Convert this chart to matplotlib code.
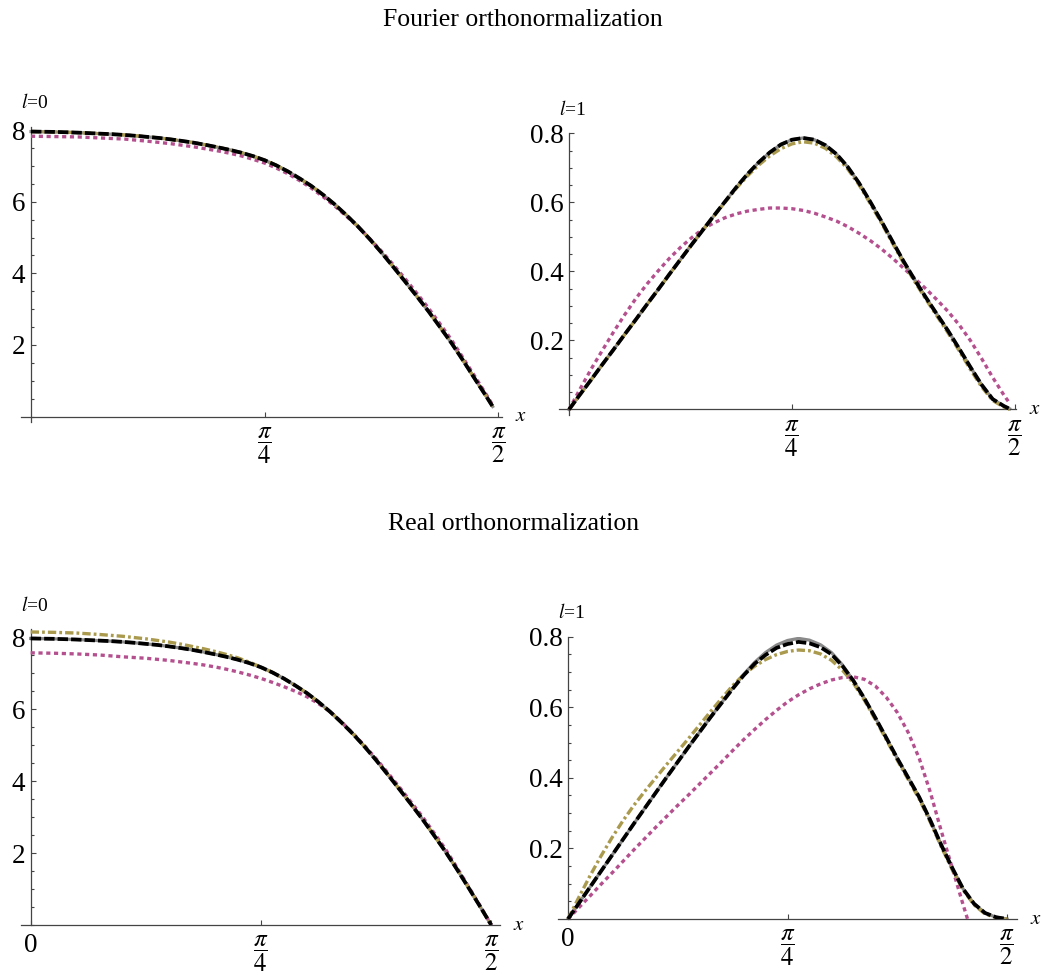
import numpy as np
import matplotlib
matplotlib.use('Agg')
import matplotlib.pyplot as plt
from matplotlib.ticker import FixedLocator, MultipleLocator

plt.rcParams['mathtext.fontset'] = 'stix'
plt.rcParams['font.family'] = ['Liberation Serif', 'DejaVu Serif']
plt.rcParams['lines.scale_dashes'] = False

# sample positions along x, as fractions of pi/2
frac_top = [0, 0.025, 0.05, 0.075, 0.1, 0.125, 0.15, 0.175, 0.2, 0.225,
            0.25, 0.275, 0.3, 0.325, 0.35, 0.375, 0.4, 0.425, 0.45, 0.475,
            0.5, 0.525, 0.55, 0.575, 0.6, 0.625, 0.65, 0.675, 0.7, 0.725,
            0.75, 0.775, 0.8, 0.825, 0.85, 0.875, 0.9, 0.925, 0.95, 0.975, 0.988]
frac_bottom = frac_top[:-1] + [1.0]

# Fourier orthonormalization, l=0
f0_exact = [7.96, 7.955, 7.95, 7.94, 7.93, 7.915, 7.90, 7.885, 7.865, 7.84,
            7.81, 7.78, 7.74, 7.695, 7.645, 7.585, 7.52, 7.45, 7.37, 7.275,
            7.16, 7.015, 6.845, 6.65, 6.44, 6.195, 5.925, 5.625, 5.305, 4.955,
            4.58, 4.185, 3.78, 3.37, 2.95, 2.505, 2.05, 1.56, 1.05, 0.55, 0.28]
f0_dashed = f0_exact
f0_dotdash = f0_exact
f0_dotted = [7.83, 7.825, 7.82, 7.815, 7.81, 7.795, 7.78, 7.765, 7.75, 7.72,
             7.69, 7.655, 7.62, 7.575, 7.53, 7.475, 7.42, 7.355, 7.28, 7.185,
             7.08, 6.94, 6.78, 6.59, 6.38, 6.14, 5.88, 5.595, 5.30, 4.965,
             4.62, 4.245, 3.86, 3.455, 3.04, 2.595, 2.14, 1.63, 1.12, 0.6, 0.32]

# Fourier orthonormalization, l=1
f1_exact = [0, 0.044, 0.087, 0.131, 0.174, 0.218, 0.261, 0.305, 0.348, 0.392,
            0.435, 0.478, 0.52, 0.562, 0.603, 0.644, 0.682, 0.716, 0.745, 0.768,
            0.782, 0.787, 0.782, 0.766, 0.74, 0.703, 0.657, 0.603, 0.547, 0.488,
            0.43, 0.376, 0.325, 0.276, 0.228, 0.176, 0.123, 0.072, 0.03, 0.01, 0.002]
f1_dashed = f1_exact
f1_dotdash = [0, 0.044, 0.087, 0.131, 0.174, 0.218, 0.261, 0.305, 0.348, 0.392,
              0.435, 0.478, 0.52, 0.561, 0.601, 0.641, 0.677, 0.708, 0.735, 0.756,
              0.77, 0.776, 0.772, 0.757, 0.732, 0.697, 0.652, 0.598, 0.542, 0.483,
              0.425, 0.371, 0.32, 0.271, 0.222, 0.17, 0.116, 0.066, 0.026, 0.007, 0.0]
f1_dotted = [0, 0.06, 0.118, 0.172, 0.225, 0.275, 0.322, 0.364, 0.402, 0.438,
             0.47, 0.498, 0.523, 0.541, 0.556, 0.567, 0.575, 0.58, 0.584, 0.584,
             0.582, 0.577, 0.569, 0.558, 0.546, 0.53, 0.511, 0.49, 0.466, 0.439,
             0.41, 0.38, 0.35, 0.318, 0.284, 0.245, 0.2, 0.148, 0.093, 0.042, 0.018]

# Real orthonormalization, l=0
r0_exact = [7.96, 7.955, 7.95, 7.94, 7.93, 7.915, 7.90, 7.885, 7.865, 7.84,
            7.81, 7.78, 7.74, 7.695, 7.645, 7.585, 7.52, 7.45, 7.37, 7.275,
            7.16, 7.015, 6.845, 6.65, 6.44, 6.195, 5.925, 5.625, 5.305, 4.955,
            4.58, 4.185, 3.78, 3.37, 2.95, 2.505, 2.05, 1.56, 1.05, 0.53, 0.0]
r0_dashed = r0_exact
r0_dotdash = [8.14, 8.135, 8.13, 8.12, 8.11, 8.09, 8.07, 8.045, 8.02, 7.985,
              7.95, 7.905, 7.86, 7.805, 7.74, 7.675, 7.60, 7.515, 7.42, 7.30,
              7.165, 7.015, 6.845, 6.65, 6.44, 6.195, 5.925, 5.625, 5.305, 4.955,
              4.58, 4.185, 3.78, 3.37, 2.95, 2.505, 2.05, 1.56, 1.05, 0.53, 0.0]
r0_dotted = [7.56, 7.555, 7.55, 7.54, 7.53, 7.515, 7.50, 7.475, 7.45, 7.43,
             7.41, 7.38, 7.35, 7.31, 7.27, 7.225, 7.17, 7.105, 7.03, 6.945,
             6.85, 6.74, 6.62, 6.49, 6.34, 6.15, 5.93, 5.64, 5.32, 4.98,
             4.62, 4.235, 3.84, 3.43, 3.02, 2.575, 2.12, 1.61, 1.08, 0.55, 0.0]

# Real orthonormalization, l=1
r1_exact = [0, 0.045, 0.09, 0.135, 0.18, 0.225, 0.27, 0.314, 0.358, 0.402,
            0.445, 0.488, 0.53, 0.572, 0.613, 0.654, 0.693, 0.727, 0.755, 0.776,
            0.789, 0.795, 0.79, 0.777, 0.755, 0.72, 0.675, 0.625, 0.57, 0.513,
            0.455, 0.4, 0.345, 0.28, 0.21, 0.145, 0.085, 0.043, 0.017, 0.005, 0.0]
r1_dashed = [0, 0.045, 0.09, 0.135, 0.18, 0.225, 0.27, 0.314, 0.358, 0.402,
             0.445, 0.488, 0.53, 0.572, 0.612, 0.652, 0.69, 0.723, 0.748, 0.768,
             0.779, 0.785, 0.781, 0.77, 0.75, 0.717, 0.675, 0.625, 0.57, 0.513,
             0.455, 0.4, 0.345, 0.28, 0.21, 0.145, 0.085, 0.043, 0.017, 0.005, 0.0]
r1_dotdash = [0, 0.062, 0.122, 0.178, 0.23, 0.278, 0.322, 0.362, 0.4, 0.438,
              0.475, 0.512, 0.55, 0.588, 0.625, 0.661, 0.692, 0.716, 0.735, 0.749,
              0.758, 0.762, 0.76, 0.751, 0.733, 0.705, 0.668, 0.62, 0.565, 0.508,
              0.45, 0.395, 0.34, 0.275, 0.205, 0.14, 0.082, 0.04, 0.014, 0.004, 0.0]
r1_dotted = [0, 0.0325, 0.065, 0.098, 0.13, 0.163, 0.196, 0.228, 0.26, 0.291,
             0.322, 0.352, 0.383, 0.414, 0.445, 0.477, 0.508, 0.537, 0.565, 0.591,
             0.615, 0.635, 0.652, 0.666, 0.677, 0.684, 0.686, 0.679, 0.66, 0.628,
             0.585, 0.528, 0.455, 0.36, 0.25, 0.145, 0.04, -0.06, -0.16, -0.26, -0.36]

left_ticks = [2, 4, 6, 8]
left_ticklabels = ['2', '4', '6', '8']
right_ticks = [0.2, 0.4, 0.6, 0.8]
right_ticklabels = ['0.2', '0.4', '0.6', '0.8']

GRAY = '#8a8a8a'
MAGENTA = '#b5508f'
OLIVE = '#aa9a4e'
AXC = '#444444'

W, H = 1045, 980
fig = plt.figure(figsize=(W / 100, H / 100), dpi=100)


def px_axes(left, top, right, bottom):
    return fig.add_axes([left / W, 1 - bottom / H, (right - left) / W, (bottom - top) / H])


def panel(ax, frac, exact, dotted, dotdash, dashed, xlim, ylim, yt, ytl, minor,
          label, zero_label):
    x = np.array(frac) * np.pi / 2
    ax.plot(x, exact, color=GRAY, lw=2.3, zorder=2)
    ax.plot(x, dotted, color=MAGENTA, lw=2.4, dashes=(3.0, 2.6), zorder=3,
            dash_capstyle='butt')
    ax.plot(x, dotdash, color=OLIVE, lw=2.4, dashes=(6.0, 2.2, 2.0, 2.2), zorder=4,
            dash_capstyle='butt')
    ax.plot(x, dashed, color='black', lw=2.7, dashes=(7.5, 2.2), zorder=5,
            dash_capstyle='butt')

    ax.set_xlim(*xlim)
    ax.set_ylim(*ylim)
    for s in ['top', 'right']:
        ax.spines[s].set_visible(False)
    for s in ['left', 'bottom']:
        ax.spines[s].set_position(('data', 0))
        ax.spines[s].set_color(AXC)
        ax.spines[s].set_linewidth(0.9)

    ax.yaxis.set_major_locator(FixedLocator(yt))
    ax.set_yticklabels(ytl)
    ax.yaxis.set_minor_locator(MultipleLocator(minor))

    xt = [np.pi / 4, np.pi / 2]
    xtl = [r'$\dfrac{\pi}{4}$', r'$\dfrac{\pi}{2}$']
    if zero_label:
        xt = [0] + xt
        xtl = ['0'] + xtl
    ax.set_xticks(xt)
    ax.set_xticklabels(xtl)

    ax.tick_params(axis='both', which='major', direction='in', length=3.6,
                   width=0.8, color=AXC, labelsize=19.5)
    ax.tick_params(axis='both', which='minor', direction='in', length=2.2,
                   width=0.8, color=AXC)
    ax.tick_params(axis='y', pad=4)
    ax.tick_params(axis='x', pad=6)
    for lab in ax.get_xticklabels():
        lab.set_fontsize(18 if lab.get_text().startswith('$') else 19.5)

    ax.annotate(label, xy=(0, 1), xycoords=('data', 'axes fraction'),
                xytext=(4, 24), textcoords='offset pixels', ha='center',
                va='center', fontsize=14)
    ax.annotate(r'$x$', xy=(1, 0), xycoords=('axes fraction', 'data'),
                xytext=(19, 0), textcoords='offset pixels', ha='center',
                va='center', fontsize=15)


ax_tl = px_axes(20.9, 126.9, 501.6, 421.9)
panel(ax_tl, frac_top, f0_exact, f0_dotted, f0_dotdash, f0_dashed,
      (-0.034, 1.582), (-0.15, 8.09), left_ticks, left_ticklabels, 0.5,
      r'$l$=0', False)

ax_tr = px_axes(559.1, 133.5, 1016.4, 415.0)
panel(ax_tr, frac_top, f1_exact, f1_dotted, f1_dotdash, f1_dashed,
      (-0.035, 1.5758), (-0.016, 0.80), right_ticks, right_ticklabels, 0.05,
      r'$l$=1', False)

ax_bl = px_axes(20.7, 629.1, 499.8, 925.0)
panel(ax_bl, frac_bottom, r0_exact, r0_dotted, r0_dotdash, r0_dashed,
      (-0.034, 1.6), (0, 8.22), left_ticks, left_ticklabels, 0.5,
      r'$l$=0', True)

ax_br = px_axes(558.2, 636.6, 1016.9, 919.0)
panel(ax_br, frac_bottom, r1_exact, r1_dotted, r1_dotdash, r1_dashed,
      (-0.035, 1.606), (0, 0.80), right_ticks, right_ticklabels, 0.05,
      r'$l$=1', True)

fig.text(523 / W, 1 - 20 / H, 'Fourier orthonormalization', ha='center',
         va='center', fontsize=18.5)
fig.text(514 / W, 1 - 524 / H, 'Real orthonormalization', ha='center',
         va='center', fontsize=18.5)

fig.savefig('out.png', dpi=100)
